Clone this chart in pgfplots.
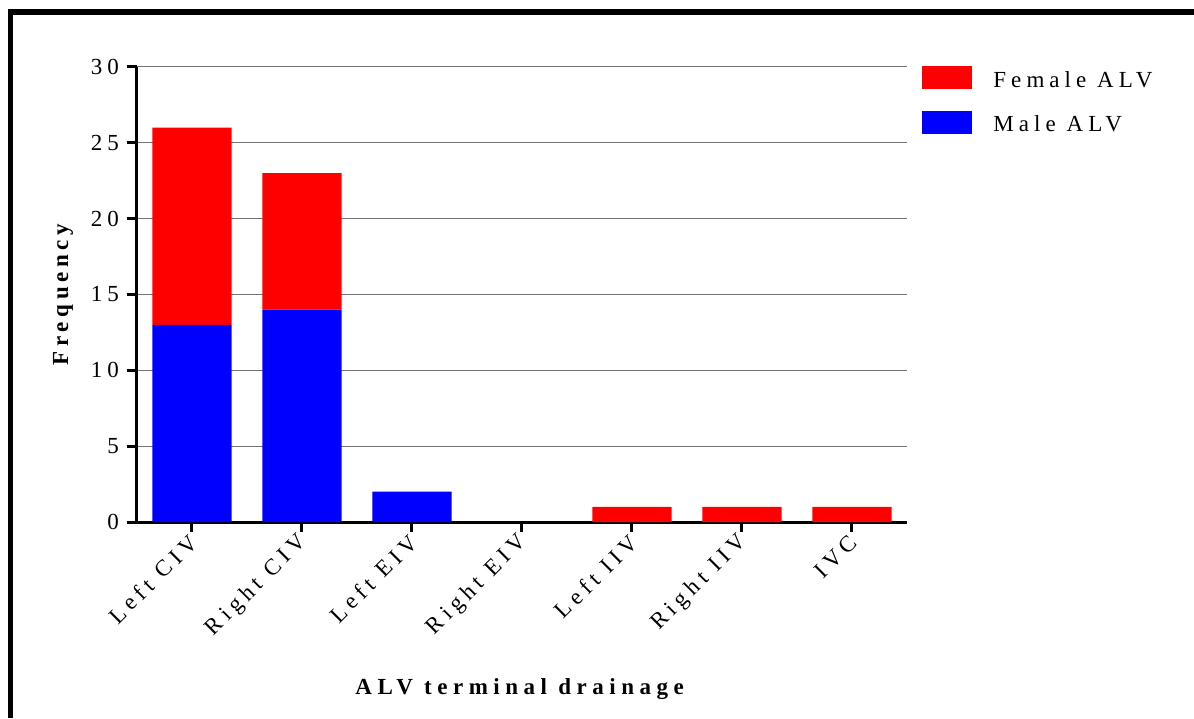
\documentclass[border=0pt]{standalone}
\usepackage{fontspec}
\setmainfont{Liberation Serif}[LetterSpace=22]
\usepackage{pgfplots}
\pgfplotsset{compat=1.18}
\definecolor{fem}{RGB}{255,0,0}
\definecolor{mal}{RGB}{0,0,255}
\begin{document}
\fontsize{11.5}{13.5}\selectfont
\begin{tikzpicture}
\useasboundingbox (0,0) rectangle (597pt,359pt);
\begin{axis}[
  at={(68.5pt,98pt)}, anchor=south west,
  scale only axis, width=385pt, height=227.5pt,
  ybar stacked, bar width=0.72,
  xmin=-0.5, xmax=6.5, ymin=0, ymax=30,
  xtick={0,...,6},
  xticklabels={Left CIV, Right CIV, Left EIV, Right EIV, Left IIV, Right IIV, IVC},
  ytick={0,5,...,30},
  axis x line=bottom, axis y line=left,
  axis line style={line width=1.5pt, -},
  tick align=outside, major tick length=5pt,
  tick style={line width=1.5pt, black},
  ymajorgrids, grid style={line width=0.5pt, black!55},
  /pgf/number format/assume math mode=true,
  xticklabel style={rotate=45, anchor=east, xshift=2pt, yshift=-3pt},
  ylabel={\bfseries\addfontfeatures{LetterSpace=20}Frequency},
  ylabel style={at={(axis description cs:-0.0961,0.5)}, anchor=center},
  xlabel={\bfseries\addfontfeatures{LetterSpace=24}ALV terminal drainage},
  xlabel style={at={(axis description cs:0.497,-0.367)}, anchor=center},
  legend image code/.code={\fill[#1] (0pt,-5.75pt) rectangle (25pt,5.75pt);},
  reverse legend,
  legend style={draw=none, fill=none, inner sep=0pt, row sep=10pt,
    at={(axis description cs:1,1)}, anchor=north west, xshift=7.5pt, yshift=0.5pt,
    nodes={inner sep=0pt}, /tikz/every odd column/.append style={column sep=10.5pt},
    /tikz/every even column/.append style={yshift=-1.5pt}},
  legend cell align=left,
]
\addplot[fill=mal, draw=none] coordinates {(0,13) (1,14) (2,2) (3,0) (4,0) (5,0) (6,0)};
\addlegendentry{Male ALV}
\addplot[fill=fem, draw=none] coordinates {(0,13) (1,9) (2,0) (3,0) (4,1) (5,1) (6,1)};
\addlegendentry{Female ALV}
\end{axis}
\draw[line width=3pt] (4pt,353pt) -- (597pt,353pt);
\draw[line width=2.5pt] (5.25pt,0pt) -- (5.25pt,354.5pt);
\end{tikzpicture}
\end{document}
